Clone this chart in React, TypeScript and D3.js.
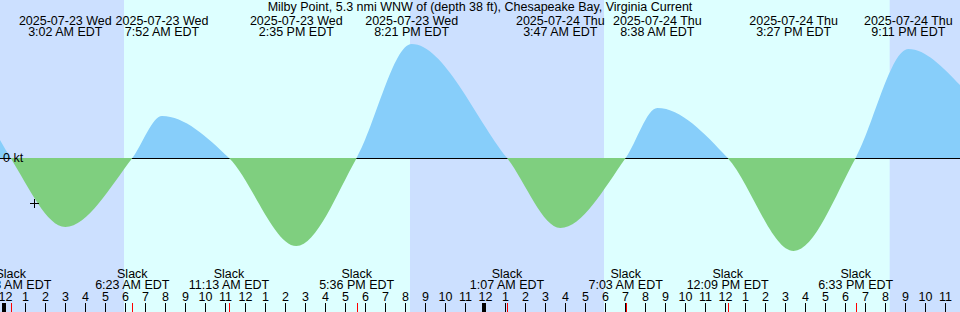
import React from 'react';
import * as d3 from 'd3';

const title = 'Milby Point, 5.3 nmi WNW of (depth 38 ft), Chesapeake Bay, Virginia Current';

// times are local EDT, stored as UTC so no timezone shift happens
const rangeStart = '2025-07-22 23:46';
const rangeEnd = '2025-07-24 23:46';

// max flood / ebb events (kt)
const maxTimes = ['2025-07-23 03:02', '2025-07-23 07:52', '2025-07-23 14:35', '2025-07-23 20:21',
    '2025-07-24 03:47', '2025-07-24 08:38', '2025-07-24 15:27', '2025-07-24 21:11'];
const maxValues = [-0.69, 0.42, -0.88, 1.14, -0.70, 0.50, -0.93, 1.09];

// slack water
const slackTimes = ['2025-07-23 00:18', '2025-07-23 06:23', '2025-07-23 11:13', '2025-07-23 17:36',
    '2025-07-24 01:07', '2025-07-24 07:03', '2025-07-24 12:09', '2025-07-24 18:33'];

// current at the window edges
const edgeValues = [0.18, 0.73];

// night shading [from, to]
const nights = [
    ['2025-07-22 23:46', '2025-07-23 05:58'],
    ['2025-07-23 20:16', '2025-07-24 05:58'],
    ['2025-07-24 20:15', '2025-07-24 23:46']
];

const nowTime = '2025-07-23 01:28';
const nowValue = -0.45;

const W = 960, H = 312;
const font = '"Liberation Sans", Arial, sans-serif';
const fs = 12.5;

const parse = d3.utcParse('%Y-%m-%d %H:%M');
const fmtTime = d3.utcFormat('%-I:%M %p EDT');
const fmtDate = d3.utcFormat('%Y-%m-%d %a');

export default function App() {
    const x = d3.scaleUtc().domain([parse(rangeStart), parse(rangeEnd)]).range([0, W]);
    const y = d3.scaleLinear().domain([-1, 1]).range([258, 58]);
    const y0 = y(0);

    const points = [
        { t: parse(rangeStart), v: edgeValues[0] },
        ...slackTimes.map(s => ({ t: parse(s), v: 0 })),
        ...maxTimes.map((s, i) => ({ t: parse(s), v: maxValues[i] })),
        { t: parse(rangeEnd), v: edgeValues[1] }
    ].sort((a, b) => +a.t - +b.t);

    const area = d3.area()
        .x(d => x(d.t))
        .y0(y0)
        .y1(d => y(d.v))
        .curve(d3.curveMonotoneX);

    const hours = x.ticks(d3.utcHour.every(1));
    const fmtHour = d3.utcFormat('%-I');

    const nx = x(parse(nowTime)), ny = y(nowValue);

    return (
        <div>
            <style>{'body{margin:0}'}</style>
            <svg width={W} height={H} style={{ display: 'block', fontFamily: font }}>
                <defs>
                    <clipPath id="above"><rect x={0} y={0} width={W} height={y0} /></clipPath>
                    <clipPath id="below"><rect x={0} y={y0} width={W} height={H - y0} /></clipPath>
                </defs>
                <rect x={0} y={0} width={W} height={H} fill="#ddffff" />
                {nights.map((n, i) => (
                    <rect key={i} x={x(parse(n[0]))} y={0}
                          width={x(parse(n[1])) - x(parse(n[0]))} height={H} fill="#cce0ff" />
                ))}
                <line x1={0} x2={W} y1={y0 + 0.5} y2={y0 + 0.5} stroke="#000" />
                <path d={area(points)} fill="#87cefa" clipPath="url(#above)" />
                <path d={area(points)} fill="#7fcf7f" clipPath="url(#below)" />
                <text x={3} y={y0 + 4} fontSize={fs}>0 kt</text>
                <path d={`M${nx - 4.5},${ny}H${nx + 4.5}M${nx},${ny - 4.5}V${ny + 4.5}`}
                      stroke="#000" strokeWidth={1} transform="translate(0.5,0.5)" />

                <text x={W / 2} y={11} fontSize={fs} textAnchor="middle">{title}</text>
                {maxTimes.map((s, i) => (
                    <text key={i} x={x(parse(s))} fontSize={fs} textAnchor="middle">
                        <tspan x={x(parse(s))} y={25}>{fmtDate(parse(s))}</tspan>
                        <tspan x={x(parse(s))} y={36}>{fmtTime(parse(s))}</tspan>
                    </text>
                ))}

                {slackTimes.map((s, i) => (
                    <text key={i} fontSize={fs} textAnchor="middle">
                        <tspan x={x(parse(s))} y={278}>Slack</tspan>
                        <tspan x={x(parse(s))} y={289}>{fmtTime(parse(s))}</tspan>
                    </text>
                ))}

                {hours.map((h, i) => {
                    const hx = Math.round(x(h)) + 0.5;
                    const midnight = h.getUTCHours() === 0;
                    return (
                        <g key={i}>
                            <text x={hx} y={301} fontSize={fs} textAnchor="middle">{fmtHour(h)}</text>
                            {midnight
                                ? <rect x={hx - 3.5} y={303} width={4} height={9} fill="#000" />
                                : <line x1={hx} x2={hx} y1={303} y2={H} stroke="#000" />}
                        </g>
                    );
                })}
                {slackTimes.map((s, i) => {
                    const sx = Math.round(x(parse(s))) + 0.5;
                    return <line key={i} x1={sx} x2={sx} y1={303} y2={H} stroke="#ff0000" />;
                })}
            </svg>
        </div>
    );
}
